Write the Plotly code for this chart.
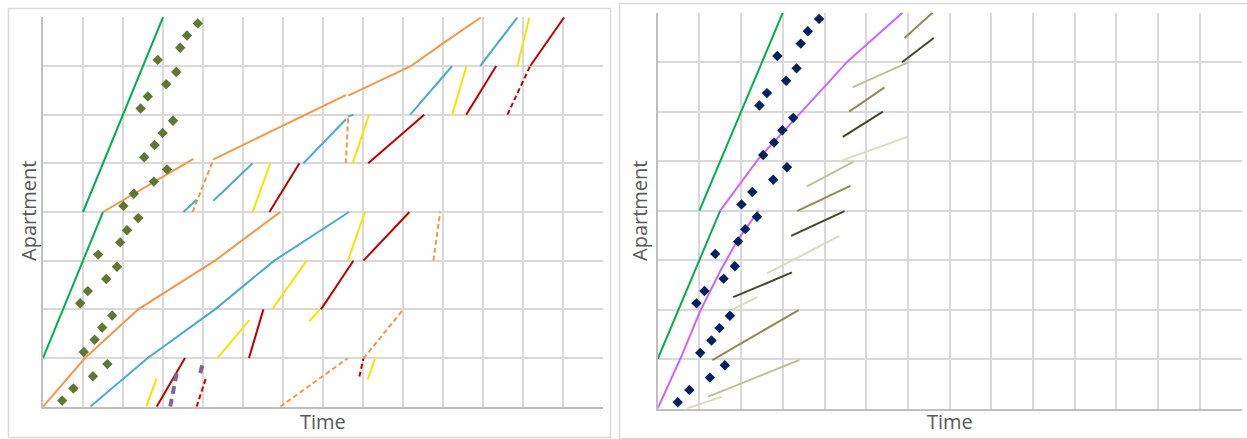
import plotly.graph_objects as go

W, H = 1247, 439

# ---------------- data (grid units: x = time column, y = apartment row) ----------------
GREEN_X = [[0, 1.5], [1, 3]]
GREEN_Y = [[1, 4], [4, 8]]

DIAMOND_X = [0.48, 0.76, 1.25, 1.61, 1.02, 1.29, 1.48, 1.73,
             0.93, 1.12, 1.58, 1.85, 1.38, 1.93, 2.10, 2.38,
             2.01, 2.27, 2.77, 3.10, 2.53, 2.79, 2.99, 3.25,
             2.44, 2.62, 3.08, 3.33, 2.87, 3.43, 3.60, 3.87]
DIAMOND_Y = [0.125, 0.375, 0.625, 0.875, 1.125, 1.375, 1.625, 1.875,
             2.125, 2.375, 2.625, 2.875, 3.125, 3.375, 3.625, 3.875,
             4.125, 4.375, 4.625, 4.875, 5.125, 5.375, 5.625, 5.875,
             6.125, 6.375, 6.625, 6.875, 7.125, 7.375, 7.625, 7.875]

# left panel
ORANGE_X = [[0, 1.05, 2.38, 4.3, 5.93], [1.5, 3.76], [4.26, 7.57], [7.63, 9.18, 10.01, 10.95]]
ORANGE_Y = [[0, 1, 2, 3, 4], [4, 5.09], [5.08, 6.40], [6.39, 6.99, 7.47, 8]]
ORANGE_DASH_X = [[3.74, 4.26], [7.57, 7.63], [9.76, 9.93], [5.93, 7.61], [8.01, 9.01]]
ORANGE_DASH_Y = [[4, 5.08], [5.0, 5.99], [3.0, 4.0], [0, 0.99], [0.99, 2.0]]

TEAL_X = [[1.18, 2.62, 4.3, 5.78, 7.65], [3.51, 3.84], [4.26, 5.24], [6.51, 7.57],
          [7.63, 7.76], [9.18, 10.23], [10.93, 11.86]]
TEAL_Y = [[0, 1, 2, 3, 4], [4, 4.25], [4.23, 5.0], [5, 5.9],
          [5.96, 6.0], [6, 7], [7, 8]]

YELLOW_X = [[2.58, 2.84], [4.36, 5.16], [5.73, 6.59], [6.66, 6.93], [8.12, 8.3],
            [7.62, 8.05], [5.24, 5.68], [7.74, 8.15], [10.23, 10.59], [11.86, 12.16]]
YELLOW_Y = [[0, 0.58], [1, 1.78], [2, 3], [1.76, 2], [0.56, 1],
            [3, 4], [4, 5], [5, 6], [6, 7], [7, 8]]

RED_X = [[2.84, 3.55], [5.15, 5.51], [6.95, 7.76], [5.66, 6.41], [8.01, 9.16],
         [8.13, 9.53], [10.58, 11.33], [12.18, 13.03]]
RED_Y = [[0, 1], [1, 2], [2, 3], [4, 5], [3, 4],
         [5, 6], [6, 7], [7, 8]]
RED_DASH_X = [[3.84, 4.07], [7.91, 8.01], [11.61, 12.18]]
RED_DASH_Y = [[0, 0.58], [0.62, 0.99], [6, 7]]

PURPLE_DASH_X = [[3.18, 3.35], [3.93, 3.99]]
PURPLE_DASH_Y = [[0, 0.72], [0.69, 0.87]]

# right panel
VIOLET_X = [[0, 0.54, 1.02, 1.5, 1.9, 2.42], [1.5, 2.41, 4.56, 5.87]]
VIOLET_Y = [[0, 1, 1.97, 2.78, 3.38, 4], [4, 5.04, 7.02, 8]]

KHAKI_COLORS = ["#ddd9c3", "#c4bd97", "#948a54", "#4a452a"]
KHAKI_SHADE = [1, 0, 2, 3, 0, 0, 3, 2, 1, 0, 3, 2, 1, 3, 2]
KHAKI_X = [[1.21, 3.40], [0.70, 1.54], [1.31, 3.38], [1.81, 3.22], [1.78, 2.39],
           [2.62, 4.36], [3.20, 4.48], [3.34, 4.62], [3.58, 4.70], [4.34, 5.99],
           [4.44, 5.40], [4.59, 5.44], [4.67, 6.02], [5.86, 6.62], [5.92, 6.59]]
KHAKI_Y = [[0.24, 0.98], [0.0, 0.24], [0.98, 1.99], [2.25, 2.75], [2.0, 2.25],
           [2.73, 3.49], [3.49, 3.99], [3.99, 4.50], [4.49, 4.99], [4.99, 5.49],
           [5.49, 6.0], [6.0, 6.49], [6.49, 7.0], [7.0, 7.49], [7.49, 8.0]]

N_COLS = 14
N_ROWS = 8

# ---------------- figure ----------------
fig = go.Figure()


def join(xs, ys):
    ox, oy = [], []
    for sx, sy in zip(xs, ys):
        ox += list(sx) + [None]
        oy += list(sy) + [None]
    return ox, oy


def add_lines(xs, ys, color, width, dash, panel):
    x, y = join(xs, ys)
    ax = "x" if panel == 1 else "x2"
    ay = "y" if panel == 1 else "y2"
    fig.add_trace(go.Scatter(x=x, y=y, mode="lines", xaxis=ax, yaxis=ay,
                             line=dict(color=color, width=width, dash=dash),
                             hoverinfo="skip", showlegend=False, connectgaps=False))


# left panel
add_lines(GREEN_X, GREEN_Y, "#00b050", 2, "solid", 1)
add_lines(ORANGE_X, ORANGE_Y, "#f79646", 2, "solid", 1)
add_lines(ORANGE_DASH_X, ORANGE_DASH_Y, "#f79646", 2, "5px,3px", 1)
add_lines(TEAL_X, TEAL_Y, "#4bacc6", 2, "solid", 1)
add_lines(YELLOW_X, YELLOW_Y, "#f0e800", 2, "solid", 1)
add_lines(RED_X, RED_Y, "#c00000", 2, "solid", 1)
add_lines(RED_DASH_X, RED_DASH_Y, "#c00000", 2, "5px,3px", 1)
add_lines(PURPLE_DASH_X, PURPLE_DASH_Y, "#8064a2", 4, "8px,5px", 1)
fig.add_trace(go.Scatter(x=DIAMOND_X, y=DIAMOND_Y, mode="markers", xaxis="x", yaxis="y",
                         marker=dict(symbol="diamond", size=8, color="#5f7733"),
                         hoverinfo="skip", showlegend=False))

# right panel
add_lines(GREEN_X, GREEN_Y, "#00b050", 2, "solid", 2)
add_lines(VIOLET_X, VIOLET_Y, "#cc66ff", 2, "solid", 2)
for shade in range(len(KHAKI_COLORS)):
    xs = [KHAKI_X[i] for i in range(len(KHAKI_X)) if KHAKI_SHADE[i] == shade]
    ys = [KHAKI_Y[i] for i in range(len(KHAKI_Y)) if KHAKI_SHADE[i] == shade]
    add_lines(xs, ys, KHAKI_COLORS[shade], 2, "solid", 2)
fig.add_trace(go.Scatter(x=DIAMOND_X, y=DIAMOND_Y, mode="markers", xaxis="x2", yaxis="y2",
                         marker=dict(symbol="diamond", size=8, color="#002060"),
                         hoverinfo="skip", showlegend=False))

# ---------------- layout ----------------
def px_x(p):
    return p / W


def px_y(p):
    return (H - p) / H


grid = "#d9d9d9"
axis_common = dict(showticklabels=False, ticks="", zeroline=False, showgrid=True,
                   gridcolor=grid, gridwidth=1.5, dtick=1, tick0=0,
                   showline=True, linecolor="#bfbfbf", linewidth=1.5, fixedrange=True)

fig.update_layout(
    width=W, height=H, margin=dict(l=0, r=0, t=0, b=0),
    paper_bgcolor="white", plot_bgcolor="white",
    xaxis=dict(domain=[px_x(43), px_x(603)], range=[0, N_COLS], anchor="y", **axis_common),
    yaxis=dict(domain=[px_y(406.7), px_y(17.3)], range=[0, N_ROWS], anchor="x", **axis_common),
    xaxis2=dict(domain=[px_x(657.7), px_x(1241.5)], range=[0, N_COLS], anchor="y2", **axis_common),
    yaxis2=dict(domain=[px_y(408.5), px_y(12.7)], range=[0, N_ROWS], anchor="x2", **axis_common),
)

# panel frames
fig.add_shape(type="rect", xref="paper", yref="paper",
              x0=px_x(8.5), x1=px_x(610.5), y0=px_y(437.5), y1=px_y(8.5),
              line=dict(color=grid, width=1.5), layer="below")
fig.add_shape(type="rect", xref="paper", yref="paper",
              x0=px_x(619.5), x1=px_x(1265), y0=px_y(438.5), y1=px_y(3.5),
              line=dict(color=grid, width=1.5), layer="below")

font = dict(family="Open Sans", size=20, color="#595959")
for xc, yc, txt, ang in [(28.5, 211.5, "Apartment", -90), (640, 211, "Apartment", -90),
                         (323, 421, "Time", 0), (949.5, 421, "Time", 0)]:
    fig.add_annotation(x=px_x(xc), y=px_y(yc), xref="paper", yref="paper", text=txt,
                       showarrow=False, textangle=ang, font=font,
                       xanchor="center", yanchor="middle")

fig.write_html("out.html", config={"displayModeBar": False},
               post_script="document.body.style.margin='0';")
